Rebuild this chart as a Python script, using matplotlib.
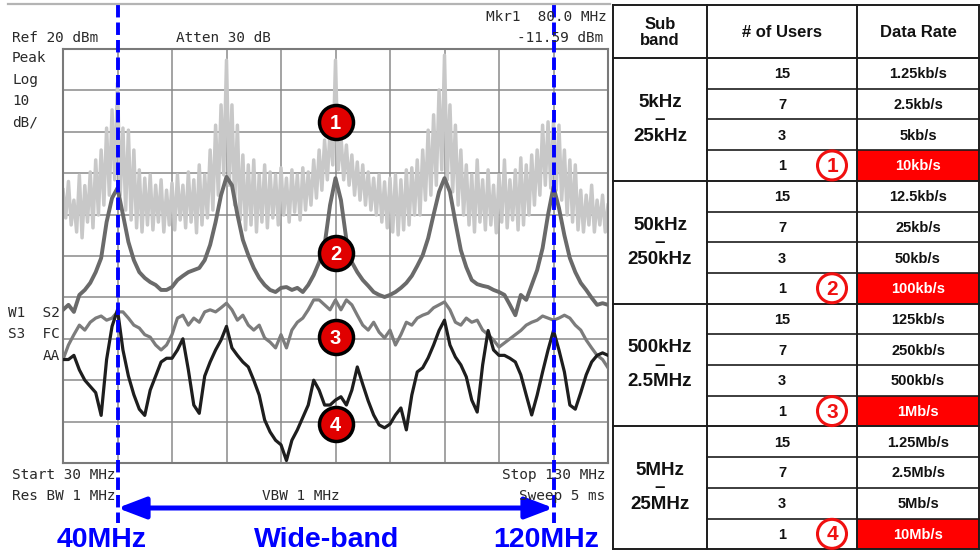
import numpy as np
import matplotlib.pyplot as plt
from matplotlib.patches import Circle, Rectangle

W, H = 980, 556

# Spectrum analyser sweep, 30-130 MHz, read in 1 MHz bins (dBm)
freq = np.arange(30, 131)

# light grey trace: spike tops at the bins, troughs half way between them
trace1_hi = [-14, -12, -16.5, -10.5, -13, -9.7, -6.8, -4.4, 0.9, 5.3,
             11.8, 0.9, 0.4, -4.4, -9.2, -11.2, -10.4, -12.9, -11.6, -14.1,
             -12.4, -10.4, -12.9, -9.7, -11.6, -8, -10.4, -4.4, 1.6, 6.5,
             17.3, 6.5, 1.6, -5.6, -8, -6.8, -10.4, -8, -9.7, -10.4,
             -8.7, -11.2, -9.2, -10.4, -8.7, -9.7, -6.8, -4.4, -2, 0.4,
             17.3, -0.8, -3.2, -5.6, -7.3, -8, -9.7, -11.2, -10.4, -12.1,
             -11.2, -10.4, -11.6, -9.2, -8.7, -6.8, -4.4, 0.4, 4.1, 10.1,
             18.5, 6.5, 1.6, -4.4, -8, -10.4, -6.8, -11.6, -9.2, -12.9,
             -10.4, -6.8, -11.6, -9.2, -6.3, -8, -5.6, -4.4, 1.6, 2.4,
             2.8, 1.6, -4.4, -6.8, -8, -14.1, -15.3, -12.9, -16.5, -15.3,
             -17.7]
trace1_lo = [-20.8, -22.5, -24.2, -25.6, -21.8, -23.2, -20.1, -17.7, -15.3, -11.6,
             -15.3, -18.9, -21.3, -23.2, -24.2, -22.5, -23.7, -21.8, -24.2, -22.5,
             -23.7, -21.3, -23.2, -21.8, -24.4, -22.5, -20.8, -18.9, -15.3, -10.4,
             -12.9, -17.7, -21.3, -23.7, -22.5, -24.2, -21.8, -23.2, -20.8, -22.5,
             -20.1, -21.8, -19.4, -21.3, -18.9, -17.7, -16, -14.1, -11.6, -8,
             -9.2, -11.6, -12.9, -15.3, -16.5, -17.7, -18.9, -20.1, -21.8, -23.2,
             -24.2, -24.9, -23.7, -22.5, -20.1, -20.1, -16.5, -15.3, -12.9, -9.2,
             -11.6, -14.5, -17.7, -20.1, -22.5, -24.2, -21.8, -23.7, -22.5, -24.4,
             -21.8, -23.2, -21.3, -23.7, -22.5, -20.1, -17.7, -15.3, -12.9, -13.6,
             -14.1, -16.5, -20.1, -21.8, -23.7, -24.2, -22.5, -24.2, -22.5, -24.2]
trace2 = [-43, -41.8, -43.5, -39.4, -38.2, -36.5, -33.9, -30.5, -21.8, -16,
          -13.6, -20, -26.6, -31, -33.9, -35.3, -36.3, -37, -38.2, -38.2,
          -37.5, -35.8, -34.8, -33.9, -33.4, -32.9, -31, -27.3, -21.8, -15.3,
          -10.9, -12.9, -20, -26.1, -29.8, -32.9, -35.3, -37, -38.2, -38.7,
          -37.7, -37.5, -38.2, -37.7, -38.7, -37, -34.6, -31.5, -27.3, -17.7,
          -11.2, -16.5, -26.1, -31.5, -33.9, -35.8, -37.2, -38.7, -39.4, -39.9,
          -39.4, -38.7, -37.7, -36.5, -34.8, -32.4, -29.8, -25.7, -20, -14.5,
          -11.2, -14.5, -21.8, -28.6, -32.7, -35.8, -36.8, -37.2, -37.5, -38.2,
          -38.7, -39.4, -41.8, -44.3, -39.4, -40.6, -37, -33.4, -28.1, -20,
          -13.3, -18.4, -25, -30.5, -33.9, -36.5, -38.2, -40.1, -41.8, -41.4,
          -41.8]
trace3 = [-55, -51.5, -49, -46.7, -47.9, -46, -45, -44.5, -45.5, -45,
          -43.5, -43.5, -45, -46.7, -47.4, -49, -49.6, -51.5, -52.7, -51.5,
          -49, -45, -44.3, -46.7, -45, -46, -43.5, -43, -43.5, -42.5,
          -41.4, -43, -45.5, -44.3, -46.7, -47.9, -46.7, -49.8, -50.8, -52.2,
          -49, -52.2, -47.9, -46, -45, -43, -40.6, -40.6, -41.8, -43,
          -40.6, -43, -40.6, -41.8, -44.3, -46.7, -47.9, -46, -48.4, -49.8,
          -47.9, -51.5, -49, -46, -46.7, -45, -44.3, -43.8, -42.5, -41.8,
          -41.1, -43, -46, -46.7, -45, -46, -45.5, -47.9, -49, -50.3,
          -52, -51, -50, -49, -48, -46.7, -46, -45.5, -44.5, -45,
          -45.5, -45, -44.3, -45, -46.7, -47.9, -50.3, -52.2, -54, -55,
          -57]
trace4 = [-55, -55, -54, -57.5, -60, -61.5, -63, -68.5, -55, -47,
          -43, -52.7, -59, -63.5, -67, -68.5, -62.4, -59, -55.6, -54.7,
          -54.7, -52.7, -50, -57.5, -66, -68, -59, -55.6, -52.7, -50.3,
          -47, -52.2, -54, -55.6, -56.8, -60, -63.6, -69.6, -72.5, -74.5,
          -75.6, -79.4, -74.5, -72, -69, -66, -60, -62.4, -66, -66,
          -64.8, -64, -66, -62.4, -56.8, -61, -65, -68.4, -70.8, -71.5,
          -70.6, -68.4, -66.7, -72, -63.6, -58, -57, -54.6, -51.5, -48,
          -45.5, -51.5, -54.4, -56.3, -59.2, -64.8, -67.7, -56.3, -48, -52.7,
          -54, -54, -54.7, -55.6, -58.7, -63.6, -68.4, -63.6, -58, -52.7,
          -48, -52.7, -58, -66, -67, -63, -58.7, -55.6, -54, -53.4,
          -54]

marker_labels = ['1', '2', '3', '4']
marker_freq = 80
marker_level = [2.4, -29.3, -49.6, -70.6]
band_edges = [40, 120]
band_labels = ['40MHz', 'Wide-band', '120MHz']

# Table values
subbands = ['5kHz\n–\n25kHz', '50kHz\n–\n250kHz', '500kHz\n–\n2.5MHz', '5MHz\n–\n25MHz']
users = ['15', '7', '3', '1']
rates = [['1.25kb/s', '2.5kb/s', '5kb/s', '10kb/s'],
         ['12.5kb/s', '25kb/s', '50kb/s', '100kb/s'],
         ['125kb/s', '250kb/s', '500kb/s', '1Mb/s'],
         ['1.25Mb/s', '2.5Mb/s', '5Mb/s', '10Mb/s']]
headers = ['Sub\nband', '# of Users', 'Data Rate']


def fx(x):
    return x / W


def fy(y):
    return 1 - y / H


def py2db(y):
    # pixel row -> dBm on the analyser screen
    return 20 - (y - 49) / 4.14


fig = plt.figure(figsize=(W / 100, H / 100), dpi=100)

# ---- table (pixel coordinates) ----
tax = fig.add_axes([0, 0, 1, 1])
tax.set_xlim(0, W)
tax.set_ylim(H, 0)
tax.axis('off')
tax.patch.set_visible(False)

col_x = [613, 707, 857, 979]
top, head_bot, row_h = 5, 58, 30.7
lc = '#1c1c1c'
arial = 'Liberation Sans'

for g in range(4):
    y0 = head_bot + (4 * g + 3) * row_h
    tax.add_patch(Rectangle((col_x[2], y0), col_x[3] - col_x[2], row_h,
                            color='#ff0000', lw=0))

tax.plot([col_x[0], col_x[3]], [top, top], color=lc, lw=1.4)
tax.plot([col_x[0], col_x[3]], [head_bot, head_bot], color=lc, lw=1.4)
for i in range(1, 17):
    y = head_bot + i * row_h
    x0 = col_x[0] if i % 4 == 0 else col_x[1]
    tax.plot([x0, col_x[3]], [y, y], color=lc, lw=1.4 if i % 4 == 0 else 1.2)
for x in col_x:
    tax.plot([x, x], [top, head_bot + 16 * row_h], color=lc, lw=1.4)

hc = [(col_x[i] + col_x[i + 1]) / 2 for i in range(3)]
for i, h in enumerate(headers):
    tax.text(hc[i], (top + head_bot) / 2 + 1, h, ha='center', va='center',
             fontsize=12, fontweight='bold', family=arial, color='#111111',
             linespacing=1.05)

for g in range(4):
    gy = head_bot + (4 * g + 2) * row_h
    tax.text(hc[0], gy, subbands[g], ha='center', va='center', fontsize=13.5,
             fontweight='bold', family=arial, color='#111111', linespacing=1.0)
    for r in range(4):
        ry = head_bot + (4 * g + r + 0.5) * row_h + 1
        tax.text(hc[1], ry, users[r], ha='center', va='center', fontsize=10.5,
                 fontweight='bold', family=arial, color='#111111')
        red = r == 3
        tax.text(hc[2], ry, rates[g][r], ha='center', va='center', fontsize=10.5,
                 fontweight='bold', family=arial,
                 color='white' if red else '#111111')
    cy = head_bot + (4 * g + 3.5) * row_h
    tax.add_patch(Circle((832, cy), 14.5, facecolor='white', edgecolor='#f01010',
                         lw=2.2, zorder=4))
    tax.text(832, cy + 1, marker_labels[g], ha='center', va='center', fontsize=15,
             fontweight='bold', family=arial, color='#f01010', zorder=5)

# ---- spectrum analyser screen ----
ax = fig.add_axes([fx(63), fy(463), 545 / W, 414 / H])
ax.set_xlim(30, 130)
ax.set_ylim(-80, 20)
ax.set_xticks(np.arange(30, 131, 10))
ax.set_yticks(np.arange(-80, 21, 10))
ax.tick_params(length=0, labelbottom=False, labelleft=False)
ax.grid(True, color='#8a8a8a', lw=1.1)
ax.set_axisbelow(True)
for s in ax.spines.values():
    s.set_color('#7a7a7a')
    s.set_linewidth(1.5)

x1 = np.empty(2 * len(freq) - 1)
y1 = np.empty(2 * len(freq) - 1)
x1[0::2] = freq
x1[1::2] = freq[:-1] + 0.5
y1[0::2] = trace1_hi
y1[1::2] = trace1_lo
ax.plot(x1, y1, color='#c8c8c8', lw=2.5, zorder=2)
ax.plot(freq, trace2, color='#6a6a6a', lw=2.8, zorder=3)
ax.plot(freq, trace3, color='#7c7c7c', lw=2.3, zorder=3)
ax.plot(freq, trace4, color='#1e1e1e', lw=2.3, zorder=4)

ax.scatter([marker_freq] * 4, marker_level, s=600, c='#e00000',
           edgecolors='black', linewidths=2.5, zorder=6, clip_on=False)
for lab, lev in zip(marker_labels, marker_level):
    ax.text(marker_freq, lev - 0.3, lab, ha='center', va='center', color='white',
            fontsize=14.5, fontweight='bold', family=arial, zorder=7)

# band edges and arrow
for f in band_edges:
    ax.plot([f, f], [py2db(5), py2db(523)], color='#0000ff', lw=2.8,
            dashes=(3.2, 1.3), clip_on=False, zorder=8)
ax.annotate('', xy=(band_edges[0], py2db(508)), xytext=(band_edges[1], py2db(508)),
            arrowprops=dict(arrowstyle='<|-|>,head_length=1.7,head_width=0.65',
                            color='#0000ff', lw=3.6, shrinkA=0, shrinkB=0,
                            mutation_scale=10),
            annotation_clip=False)

for lab, xc in zip(band_labels, [102, 327, 546]):
    fig.text(fx(xc), fy(540), lab, ha='center', va='center', fontsize=20.5,
             fontweight='bold', family=arial, color='#0000ff')

# analyser annotations
mono = dict(family='DejaVu Sans Mono', fontsize=10.4, color='#2a2a2a', va='center')
fig.text(fx(12), fy(38), 'Ref 20 dBm', **mono)
fig.text(fx(176), fy(38), 'Atten 30 dB', **mono)
fig.text(fx(607), fy(17), 'Mkr1  80.0 MHz', ha='right', **mono)
fig.text(fx(603), fy(38), '-11.59 dBm', ha='right', **mono)
for txt, y in zip(['Peak', 'Log', '10', 'dB/'], [58, 80, 101, 122]):
    fig.text(fx(12), fy(y), txt, **mono)
fig.text(fx(60), fy(313), 'W1  S2', ha='right', **mono)
fig.text(fx(60), fy(334), 'S3  FC', ha='right', **mono)
fig.text(fx(60), fy(356), 'AA', ha='right', **mono)
fig.text(fx(12), fy(475), 'Start 30 MHz', **mono)
fig.text(fx(605), fy(475), 'Stop 130 MHz', ha='right', **mono)
fig.text(fx(12), fy(496), 'Res BW 1 MHz', **mono)
fig.text(fx(301), fy(496), 'VBW 1 MHz', ha='center', **mono)
fig.text(fx(605), fy(496), 'Sweep 5 ms', ha='right', **mono)

# thin grey rule above the screen
fig.add_artist(plt.Line2D([fx(8), fx(610)], [fy(3.5), fy(3.5)], color='#b4b4b4', lw=1.6))

fig.savefig('out.png', dpi=100)
